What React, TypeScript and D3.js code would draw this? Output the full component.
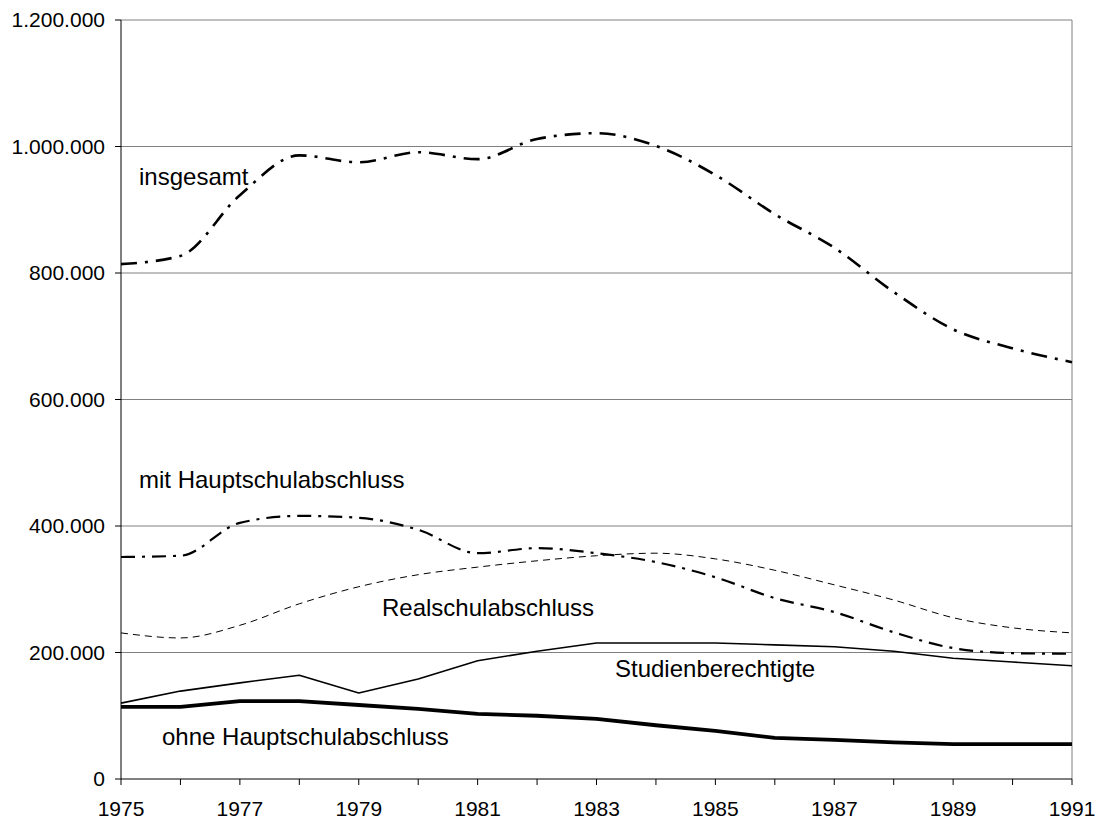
import React from "react";
import * as d3 from "d3";

const years = [1975,1976,1977,1978,1979,1980,1981,1982,1983,1984,1985,1986,1987,1988,1989,1990,1991];
const insgesamt = [814,827,923,986,975,991,980,1012,1021,1001,955,893,840,770,711,681,659];
const mitHaupt = [351,353,405,416,413,394,357,365,357,343,319,286,264,232,207,199,198];
const realschul = [231,223,243,277,304,323,335,345,353,357,348,330,307,283,255,239,231];
const studien = [120,139,152,164,136,158,187,202,215,215,215,212,209,202,191,185,179];
const ohne = [114,114,123,123,117,111,103,100,95,85,76,65,62,58,55,55,55];
const yTicks = [0,200000,400000,600000,800000,1000000,1200000];
const xLabelYears = [1975,1977,1979,1981,1983,1985,1987,1989,1991];

const W = 1097, H = 821;
const M = { left: 121, right: 1072, top: 20, bottom: 779 };

export default function App() {
  const x = d3.scaleLinear().domain([1975, 1991]).range([M.left, M.right]);
  const y = d3.scaleLinear().domain([0, 1200000]).range([M.bottom, M.top]);
  const fmt = (v: number) => v === 0 ? "0" : d3.format(",")(v).replace(/,/g, ".");
  const mk = (vals: number[], curve: any) =>
    d3.line<number>().x((_, i) => x(years[i])).y((v) => y(v * 1000)).curve(curve)(vals) || "";
  const font = "'Liberation Sans', Arial, sans-serif";
  const series = [
    { vals: realschul, curve: d3.curveMonotoneX, w: 1, dash: "7 5" },
    { vals: studien, curve: d3.curveLinear, w: 1.6, dash: "" },
    { vals: ohne, curve: d3.curveLinear, w: 3.8, dash: "" },
    { vals: mitHaupt, curve: d3.curveMonotoneX, w: 2.2, dash: "14 7 3 7" },
    { vals: insgesamt, curve: d3.curveMonotoneX, w: 2.6, dash: "16 8 3 8" },
  ];
  return (
    <svg width={W} height={H} style={{ position: "absolute", left: 0, top: 0, background: "#fff" }}>
      <rect x={0} y={0} width={W} height={H} fill="#fff" />
      {yTicks.slice(1).map((t) => (
        <line key={t} x1={M.left} x2={M.right} y1={y(t)} y2={y(t)} stroke="#808080" strokeWidth={1} />
      ))}
      <line x1={M.right} x2={M.right} y1={M.top} y2={M.bottom} stroke="#808080" strokeWidth={1} />
      {series.map((s, i) => (
        <path key={i} d={mk(s.vals, s.curve)} fill="none" stroke="#000" strokeWidth={s.w}
          strokeDasharray={s.dash || undefined} strokeLinejoin="round" />
      ))}
      <line x1={M.left} x2={M.left} y1={M.top} y2={M.bottom} stroke="#000" strokeWidth={1} />
      <line x1={M.left} x2={M.right} y1={M.bottom} y2={M.bottom} stroke="#000" strokeWidth={1} />
      {yTicks.map((t) => (
        <g key={t}>
          <line x1={M.left - 6} x2={M.left} y1={y(t)} y2={y(t)} stroke="#000" />
          <text x={105} y={y(t) + 7} textAnchor="end" fontFamily={font} fontSize={21}>{fmt(t)}</text>
        </g>
      ))}
      {years.map((yr) => (
        <line key={yr} x1={x(yr)} x2={x(yr)} y1={M.bottom} y2={M.bottom + 6} stroke="#000" />
      ))}
      {xLabelYears.map((yr) => (
        <text key={yr} x={x(yr)} y={816} textAnchor="middle" fontFamily={font} fontSize={21}>{yr}</text>
      ))}
      <text x={139} y={185} fontFamily={font} fontSize={24}>insgesamt</text>
      <text x={139} y={488} fontFamily={font} fontSize={24}>mit Hauptschulabschluss</text>
      <text x={382} y={616} fontFamily={font} fontSize={24}>Realschulabschluss</text>
      <text x={615} y={677} fontFamily={font} fontSize={24}>Studienberechtigte</text>
      <text x={162} y={745} fontFamily={font} fontSize={24}>ohne Hauptschulabschluss</text>
    </svg>
  );
}
